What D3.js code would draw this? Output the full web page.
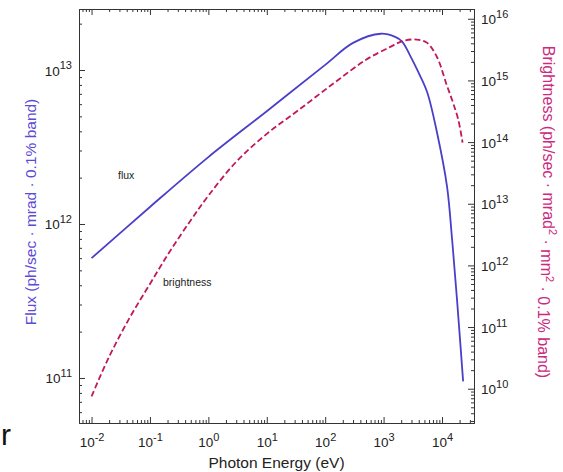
<!DOCTYPE html>
<html>
<head>
<meta charset="utf-8">
<script src="https://cdn.jsdelivr.net/npm/d3@7"></script>
<style>
  body { margin: 0; background: #fff; }
  svg { font-family: "Liberation Sans", Arial, Helvetica, sans-serif; }
  .axis path, .axis line { stroke: #333; stroke-width: 1; }
  .axis text { fill: #222; font-size: 13.5px; }
</style>
</head>
<body>
<div id="chart"></div>
<script>
// photon energy (eV) and flux for the solid curve
var fluxEnergy = [0.01, 0.1, 1, 10, 100, 300, 900, 1575, 2075, 2845, 3900, 5560, 8240, 12200, 14900, 18100, 23000];
var fluxValues = [6.0e11, 1.29e12, 2.72e12, 5.4e12, 1.08e13, 1.5e13, 1.72e13, 1.64e13, 1.53e13, 1.24e13, 9.75e12, 7.2e12, 3.9e12, 1.75e12, 7.9e11, 3.2e11, 9.5e10];

// photon energy (eV) and brightness for the dashed curve
var brightEnergy = [0.01, 0.02, 0.045, 0.1, 0.22, 0.5, 1, 3, 10, 35, 140, 500, 1300, 2200, 3700, 5500, 8200, 12000, 15500, 19000, 22500];
var brightValues = [7.5e9, 3.3e10, 1.42e11, 5.0e11, 1.7e12, 5.4e12, 1.35e13, 4.8e13, 1.36e14, 3.3e14, 9.0e14, 2.16e15, 3.5e15, 4.4e15, 4.6e15, 4.1e15, 2.4e15, 8.5e14, 4.3e14, 2.3e14, 9.8e13];

// labelled decades on each axis
var xMajor = [1e-2, 1e-1, 1e0, 1e1, 1e2, 1e3, 1e4];
var yLeftMajor = [1e11, 1e12, 1e13];
var yRightMajor = [1e10, 1e11, 1e12, 1e13, 1e14, 1e15, 1e16];

var W = 563, H = 472;
var M = { top: 9, right: 89, bottom: 49, left: 79 };
var blue = "#4a3fc9", red = "#c0185a";

var svg = d3.select("#chart").append("svg").attr("width", W).attr("height", H);

var x = d3.scaleLog().domain([0.0061, 35300]).range([M.left, W - M.right]);
var yL = d3.scaleLog().domain([5.1e10, 2.49e13]).range([H - M.bottom, M.top]);
var yR = d3.scaleLog().domain([2.78e9, 1.44e16]).range([H - M.bottom, M.top]);

// minor ticks 2..9 inside a scale's domain
function minorTicks(scale) {
	var dom = scale.domain(), out = [];
	var lo = Math.floor(Math.log10(dom[0])), hi = Math.ceil(Math.log10(dom[1]));
	for (var p = lo; p <= hi; p++) {
		for (var k = 2; k <= 9; k++) {
			var v = k * Math.pow(10, p);
			if (v >= dom[0] && v <= dom[1]) out.push(v);
		}
	}
	return out;
}

function expLabel(sel) {
	sel.selectAll("text").each(function(d) {
		var t = d3.select(this);
		var e = Math.round(Math.log10(d));
		t.text("");
		t.append("tspan").text("10");
		t.append("tspan").attr("dy", "-0.55em").style("font-size", "11px").text(String(e));
	});
}

var bottomY = H - M.bottom, rightX = W - M.right;

// bottom axis
svg.append("g").attr("class", "axis").attr("transform", "translate(0," + bottomY + ")")
	.call(d3.axisBottom(x).tickValues(minorTicks(x)).tickSizeInner(-3).tickSizeOuter(0).tickFormat(""));
var gx = svg.append("g").attr("class", "axis").attr("transform", "translate(0," + bottomY + ")")
	.call(d3.axisBottom(x).tickValues(xMajor).tickSizeInner(-6).tickSizeOuter(0))
	.call(expLabel);
gx.selectAll("text").attr("dy", null).attr("y", 24);

// top axis (ticks only)
svg.append("g").attr("class", "axis").attr("transform", "translate(0," + M.top + ")")
	.call(d3.axisTop(x).tickValues(minorTicks(x)).tickSizeInner(-3).tickSizeOuter(0).tickFormat(""));
svg.append("g").attr("class", "axis").attr("transform", "translate(0," + M.top + ")")
	.call(d3.axisTop(x).tickValues(xMajor).tickSizeInner(-6).tickSizeOuter(0).tickFormat(""));

// left axis (flux)
svg.append("g").attr("class", "axis").attr("transform", "translate(" + M.left + ",0)")
	.call(d3.axisLeft(yL).tickValues(minorTicks(yL)).tickSizeInner(-3).tickSizeOuter(0).tickFormat(""));
var gl = svg.append("g").attr("class", "axis").attr("transform", "translate(" + M.left + ",0)")
	.call(d3.axisLeft(yL).tickValues(yLeftMajor).tickSizeInner(-6).tickSizeOuter(0).tickPadding(7))
	.call(expLabel);
gl.selectAll("text").attr("dy", null).attr("y", 5);

// right axis (brightness)
svg.append("g").attr("class", "axis").attr("transform", "translate(" + rightX + ",0)")
	.call(d3.axisRight(yR).tickValues(minorTicks(yR)).tickSizeInner(-3).tickSizeOuter(0).tickFormat(""));
var gr = svg.append("g").attr("class", "axis").attr("transform", "translate(" + rightX + ",0)")
	.call(d3.axisRight(yR).tickValues(yRightMajor).tickSizeInner(-6).tickSizeOuter(0).tickPadding(7))
	.call(expLabel);
gr.selectAll("text").attr("dy", null).attr("y", 5);

// curves
var fluxData = fluxEnergy.map(function(e, i) { return { e: e, v: fluxValues[i] }; });
var brightData = brightEnergy.map(function(e, i) { return { e: e, v: brightValues[i] }; });

var fluxLine = d3.line().curve(d3.curveCatmullRom.alpha(0.5))
	.x(function(d) { return x(d.e); }).y(function(d) { return yL(d.v); });
var brightLine = d3.line().curve(d3.curveCatmullRom.alpha(0.5))
	.x(function(d) { return x(d.e); }).y(function(d) { return yR(d.v); });

svg.append("path").attr("d", fluxLine(fluxData)).attr("fill", "none")
	.attr("stroke", blue).attr("stroke-width", 1.8);
svg.append("path").attr("d", brightLine(brightData)).attr("fill", "none")
	.attr("stroke", red).attr("stroke-width", 1.8).attr("stroke-dasharray", "6,3");

// in-plot labels
svg.append("text").attr("x", x(0.0284)).attr("y", yL(1.97e12)).attr("font-size", "10.5px")
	.attr("fill", "#222").text("flux");
svg.append("text").attr("x", x(0.1675)).attr("y", yL(3.97e11)).attr("font-size", "10.5px")
	.attr("fill", "#222").text("brightness");

// axis titles
svg.append("text").attr("x", (M.left + rightX) / 2).attr("y", 468)
	.attr("text-anchor", "middle").attr("font-size", "15.5px").attr("fill", "#222")
	.text("Photon Energy (eV)");

svg.append("text").attr("transform", "translate(36,212) rotate(-90)")
	.attr("text-anchor", "middle").attr("font-size", "15.5px").attr("fill", "#5b4bd6")
	.text("Flux (ph/sec \u00b7 mrad \u00b7 0.1% band)");

var rt = svg.append("text").attr("transform", "translate(543,212) rotate(90)")
	.attr("text-anchor", "middle").attr("font-size", "16px").attr("fill", "#cc2a80");
rt.append("tspan").text("Brightness (ph/sec \u00b7 mrad");
rt.append("tspan").attr("dy", "-0.5em").style("font-size", "11px").text("2");
rt.append("tspan").attr("dy", "0.5em").text(" \u00b7 mm");
rt.append("tspan").attr("dy", "-0.5em").style("font-size", "11px").text("2");
rt.append("tspan").attr("dy", "0.5em").text(" \u00b7 0.1% band)");

// stray glyph at the lower left
svg.append("text").attr("x", 1).attr("y", 445).attr("font-size", "30px").attr("fill", "#111").text("r");
</script>
</body>
</html>
